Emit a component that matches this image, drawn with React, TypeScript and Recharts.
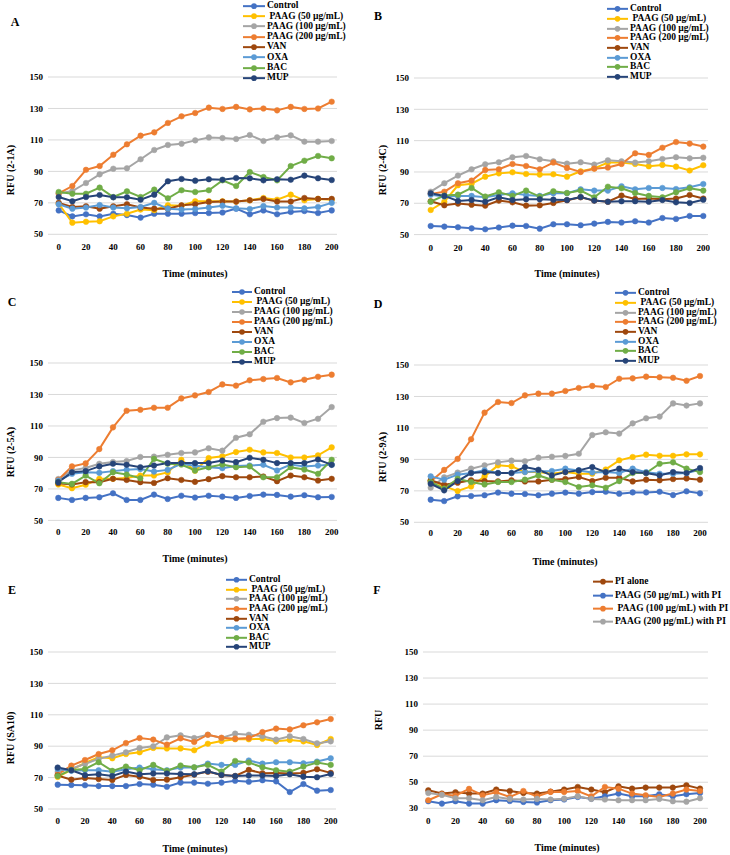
import { LineChart, Line, XAxis, YAxis, CartesianGrid } from 'recharts';

const TIME = [0, 10, 20, 30, 40, 50, 60, 70, 80, 90, 100, 110, 120, 130, 140, 150, 160, 170, 180, 190, 200];
const X_TICKS = [0, 20, 40, 60, 80, 100, 120, 140, 160, 180, 200];
const Y_TICKS = [50, 70, 90, 110, 130, 150];
const Y_TICKS_F = [30, 50, 70, 90, 110, 130, 150];

const NAMES = ['Control', ' PAAG (50 µg/mL)', 'PAAG (100 µg/mL)', 'PAAG (200 µg/mL)', 'VAN', 'OXA', 'BAC', 'MUP'];
const COLORS = ['#4472C4', '#FFC000', '#A5A5A5', '#ED7D31', '#9E480E', '#5B9BD5', '#70AD47', '#264478'];
const NAMES_F = ['PI alone', 'PAAG (50 µg/mL) with PI', ' PAAG (100 µg/mL) with PI', 'PAAG (200 µg/mL) with PI'];
const COLORS_F = ['#9E480E', '#4472C4', '#ED7D31', '#A5A5A5'];

// Panel A (2-1A)
const A_CONTROL = [65.2, 61.4, 62.7, 61.4, 63.1, 62.2, 60.6, 63.1, 63.1, 63.1, 63.5, 63.5, 63.9, 66.3, 62.7, 65.2, 62.7, 64.2, 64.8, 63.5, 65.2];
const A_PAAG50 = [69.4, 57.4, 58, 58.3, 61.4, 63.1, 65.7, 65.3, 68.4, 68.2, 71, 71, 71, 70.8, 71.6, 73.1, 72, 75.2, 71.6, 72.5, 72];
const A_PAAG100 = [76, 77.5, 82.6, 88.1, 91.7, 92, 97.7, 103.6, 106.8, 107.6, 109.7, 111.6, 111.2, 110.6, 113.1, 109.3, 111.6, 112.9, 108.9, 108.9, 109.3];
const A_PAAG200 = [76, 80.7, 91, 93.4, 100.6, 107.2, 112.7, 114.8, 120.8, 125, 127.1, 130.5, 129.7, 131, 129.4, 130, 128.8, 131, 129.7, 130, 134.3];
const A_VAN = [70, 67.4, 67.8, 66.3, 67.8, 69.1, 67, 66.3, 66.3, 68.4, 69.1, 70.6, 70.8, 70.8, 71.6, 72.5, 70.8, 70.8, 73.1, 72.5, 72.5];
const A_OXA = [69.1, 66.3, 67, 68.6, 67, 66.5, 67.4, 70, 66.3, 65.7, 66.1, 67, 68.2, 66.5, 66.1, 68, 67, 67, 66.5, 67.4, 70];
const A_BAC = [76.9, 75.8, 75.8, 79.7, 73.7, 77.3, 73.7, 78.4, 72.9, 78, 76.9, 78, 84.3, 80.7, 89.6, 86.4, 84.3, 93.4, 96.8, 99.8, 98.3];
const A_MUP = [73.7, 71, 73.7, 75, 73.5, 73.5, 72, 75.2, 83.7, 85.2, 84.1, 85, 84.7, 85.8, 85.6, 84.3, 85, 84.7, 87.3, 85.6, 84.5];

// Panel B (2-4C)
const B_CONTROL = [55.5, 55.1, 54.7, 54, 53.4, 54.5, 55.7, 55.5, 53.8, 56.6, 56.6, 56, 57, 58.1, 57.7, 58.5, 57.7, 60.6, 60, 61.9, 61.9];
const B_PAAG50 = [65.7, 71, 81.5, 82.5, 87, 89.1, 89.8, 88.7, 88.3, 88.5, 87, 90.4, 92.3, 96, 96, 95.1, 93.6, 94.5, 93.4, 90.9, 94.3];
const B_PAAG100 = [77.4, 82.8, 87.7, 91.7, 94.9, 96.2, 99.4, 100.2, 98.1, 96.8, 95.3, 96.2, 94.7, 97.4, 96.8, 96, 96.8, 98.3, 99.4, 98.7, 99.1];
const B_PAAG200 = [76, 77.4, 82.8, 84.5, 91.3, 91.7, 95.1, 93.8, 91.7, 96, 92.6, 90, 92.1, 92.8, 95.1, 101.9, 100.9, 105.5, 109.1, 108.1, 106.2];
const B_VAN = [71.3, 68.7, 69.8, 69.1, 68.5, 71.7, 70.6, 68.5, 68.7, 70.2, 71.9, 73.8, 71.7, 71, 74.9, 72.8, 73, 72.6, 73, 75.3, 73];
const B_OXA = [75.5, 74.3, 74.7, 74.7, 73.8, 75.3, 76.4, 75.3, 74.7, 76.4, 76.4, 78.9, 78.1, 78.1, 80.9, 78.9, 79.8, 79.8, 79.1, 80.2, 82.3];
const B_BAC = [71, 74.9, 75.5, 79.8, 74.3, 77, 74.7, 78.1, 74.3, 77.7, 76.6, 78.1, 73.8, 80.6, 79.6, 76.6, 74.7, 73.8, 77, 79.6, 78.1];
const B_MUP = [76.4, 74.7, 71.5, 72.1, 71, 73.8, 72.1, 72.6, 72.6, 72.3, 72.1, 74, 71.7, 71, 71.3, 71.3, 71, 72.1, 70.6, 70.2, 72.3];

// Panel C (2-5A)
const C_CONTROL = [64.3, 63, 64.3, 64.7, 67.2, 63, 63, 66.4, 63.6, 65.7, 64.5, 65.7, 65.1, 64.3, 65.5, 66.4, 66.2, 65.1, 66, 64.7, 64.9];
const C_PAAG50 = [72.8, 70.4, 72.6, 76.4, 76.4, 77, 78.5, 78.5, 80.5, 88.5, 81.6, 89.6, 90.7, 93.4, 94.9, 93.2, 92.8, 90, 90, 91.3, 96.4];
const C_PAAG100 = [76.3, 81.8, 83.3, 86, 87.1, 87.7, 90.3, 90.5, 91.7, 92.8, 93.2, 95.8, 94.3, 102.5, 104.7, 112.7, 115, 115.3, 111.9, 114.6, 122];
const C_PAAG200 = [75.8, 84.3, 86.2, 95.3, 109.1, 119.7, 120.3, 121.6, 121.6, 127.5, 129.4, 131.6, 136.4, 135.6, 139, 139.8, 140.5, 137.7, 139.4, 141.3, 142.6];
const C_VAN = [73.6, 72.8, 74.3, 74.3, 76.4, 75.7, 74.3, 73.8, 76.8, 75.7, 74.5, 76.2, 78.1, 77.4, 77.4, 77.9, 74.9, 78.5, 77.4, 75.3, 76.4];
const C_OXA = [75.3, 79.6, 80.6, 80.2, 81.3, 82.1, 82.6, 81, 82.1, 86, 84.7, 83.8, 83.2, 84.5, 84.9, 85.3, 81.7, 85.5, 84.3, 84.9, 85.3];
const C_BAC = [74.3, 73.2, 78.5, 73.6, 80.6, 79.1, 76.8, 89.1, 86, 85.5, 81.7, 83.8, 85.5, 83.8, 84.3, 77.4, 77.4, 83.8, 82.3, 79.6, 88.5];
const C_MUP = [74.3, 80.6, 81.3, 84.3, 86, 85.3, 83.8, 84.9, 86.4, 86.4, 86.4, 86.4, 88.1, 87, 89.8, 88.5, 86.4, 86.4, 86.4, 88.7, 85.3];

// Panel D (2-9A)
const D_CONTROL = [64.4, 63.5, 66.5, 66.7, 67.2, 68.9, 68.2, 68, 67.2, 68.2, 68.9, 68.2, 69.2, 69.4, 68.2, 69, 69, 69.4, 67.3, 69.7, 68.4];
const D_PAAG50 = [76.7, 72.8, 69.9, 72.8, 79.2, 86.2, 85.6, 81.9, 81.9, 80.9, 81.9, 80.9, 80.9, 83.6, 89.4, 91.5, 93, 92.3, 92.3, 93.2, 93.2];
const D_PAAG100 = [72, 78.6, 81.6, 84.1, 86.2, 88.1, 89.2, 88.8, 91.1, 91.7, 92.2, 93.6, 105.5, 107.2, 106.4, 112.9, 116.1, 117.2, 125.6, 124.2, 125.6];
const D_PAAG200 = [76, 83.3, 90.3, 102.8, 119.7, 126.5, 125.8, 130.7, 131.8, 131.8, 133.5, 135.4, 136.7, 136, 141.3, 141.5, 142.6, 142.2, 141.9, 140, 143];
const D_VAN = [76.7, 73.9, 75.2, 76.7, 76.2, 76, 76.7, 76, 76, 77.1, 77.5, 78.8, 76.2, 78.3, 78.3, 76, 77.1, 76.7, 77.5, 77.9, 77.1];
const D_OXA = [79.2, 77.1, 80.3, 81.3, 83, 81.3, 81.3, 81.9, 82.4, 82.6, 84.1, 83, 81.7, 81.9, 81.3, 84.1, 81.9, 80.9, 80.9, 81.3, 83.4];
const D_BAC = [75.6, 71.4, 77.7, 75.6, 74.1, 75.6, 75.6, 77.1, 79.8, 77.1, 75.6, 72.4, 73.5, 72, 76.2, 81.3, 81.3, 87.2, 88.1, 84.1, 81.9];
const D_MUP = [74.5, 70.3, 76.2, 81.3, 81.9, 81.3, 81.3, 85.1, 83.4, 79.8, 81.9, 83, 85.1, 81.9, 84.1, 81.9, 81.3, 79.8, 81.9, 81.3, 84.5];

// Panel E (SA10) - the antibiotic series read the same as panel B
const E_CONTROL = [65.5, 65.3, 65.1, 64.6, 64.6, 64.6, 65.9, 65.5, 64.2, 66.8, 66.8, 66.1, 66.8, 68, 67.4, 68.3, 67.6, 60.8, 65.9, 61.7, 62.1];
const E_PAAG50 = [70.4, 75, 79.3, 82.9, 82.3, 85, 86.1, 88.9, 88.6, 88.6, 87.4, 91.6, 93.3, 94.4, 94.4, 94.8, 93.1, 94, 93.1, 90.8, 94.6];
const E_PAAG100 = [73.6, 75.7, 78.7, 82, 84, 86.1, 88.9, 89.9, 95.6, 96.9, 95.2, 97.3, 95.2, 98, 97.3, 96.3, 94.2, 96.3, 94.6, 91.8, 93.1];
const E_PAAG200 = [72, 77.6, 81.2, 85, 87.4, 92, 95.2, 94.2, 91, 95, 92.7, 97.3, 95.4, 94.8, 95.2, 99, 101.2, 100.7, 103.3, 105.2, 107.3];
const E_VAN = [71.3, 68.7, 69.8, 69.1, 68.5, 71.7, 70.6, 68.5, 68.7, 70.2, 71.9, 73.8, 71.7, 71, 74.9, 72.8, 73, 72.6, 73, 75.3, 73];
const E_OXA = [75.5, 74.3, 74.7, 74.7, 73.8, 75.3, 76.4, 75.3, 74.7, 76.4, 76.4, 78.9, 78.1, 78.1, 80.9, 78.9, 79.8, 79.8, 79.1, 80.2, 82.3];
const E_BAC = [71, 74.9, 75.5, 79.8, 74.3, 77, 74.7, 78.1, 74.3, 77.7, 76.6, 78.1, 73.8, 80.6, 79.6, 76.6, 74.7, 73.8, 77, 79.6, 78.1];
const E_MUP = [76.4, 74.7, 71.5, 72.1, 71, 73.8, 72.1, 72.6, 72.6, 72.3, 72.1, 74, 71.7, 71, 71.3, 71.3, 71, 72.1, 70.6, 70.2, 72.3];

// Panel F (PI uptake)
const F_PI = [43.8, 41.3, 42.3, 41.3, 41.3, 44.4, 43.3, 41.8, 41.3, 42.8, 44.4, 46.4, 44.4, 42.3, 46.9, 45.1, 45.9, 45.9, 45.9, 47.7, 45.1];
const F_PAAG50 = [35.4, 33.6, 35.4, 33.6, 33.6, 36.2, 35.6, 34.9, 34.4, 36.2, 36.7, 38.7, 37.4, 39.2, 41.3, 39.2, 39.2, 40.8, 39.2, 40.8, 41.8];
const F_PAAG100 = [36.2, 40.8, 39.7, 44.9, 40, 42.3, 38.7, 43.3, 39.2, 42.6, 42.6, 43.3, 39.2, 46.4, 45.1, 41.3, 40, 38.7, 41.3, 44.4, 43.3];
const F_PAAG200 = [41.8, 40.3, 37.7, 37.7, 36.2, 38.7, 37.2, 36.7, 37.2, 36.7, 37.4, 39.2, 37.2, 36.7, 36.2, 36.2, 36.2, 37.2, 35.4, 35.1, 37.7];

const FONT = '"Liberation Serif", "Times New Roman", serif';

type Geom = {
  gridLeft: number; gridRight: number; x0: number; x200: number;
  yTop: number; yBot: number; tickY: number;
  titleX: number; titleY: number; yLabelX: number; yLabelY: number;
  letterX: number; letterY: number;
  legX: number; legLineW: number; legY0: number; legStep: number;
};

type PanelProps = {
  letter: string;
  yLabel: string;
  names: string[];
  colors: string[];
  values: number[][];
  yTicks: number[];
  g: Geom;
};

function Panel({ letter, yLabel, names, colors, values, yTicks, g }: PanelProps) {
  const rows = TIME.map((t, i) => {
    const r: Record<string, number> = { t };
    values.forEach((v, k) => (r['s' + k] = v[i]));
    return r;
  });
  const YW = 34;
  const XH = 22;
  const MT = 6;
  const left = g.gridLeft - YW;
  const width = g.gridRight - left + 2;
  const height = MT + (g.yBot - g.yTop) + XH;
  const tickStyle = { fontSize: 9, fontWeight: 'bold' as const, fill: '#000', fontFamily: FONT };

  return (
    <>
      <div style={{ position: 'absolute', left, top: g.yTop - MT }}>
        <LineChart width={width} height={height} data={rows} margin={{ top: MT, right: 2, bottom: 0, left: 0 }}>
          <CartesianGrid vertical={false} stroke="#d9d9d9" />
          <XAxis
            dataKey="t"
            type="number"
            domain={[0, 200]}
            ticks={X_TICKS}
            interval={0}
            padding={{ left: g.x0 - g.gridLeft, right: g.gridRight - g.x200 }}
            axisLine={false}
            tickLine={false}
            tickSize={0}
            tickMargin={g.tickY - g.yBot - 3}
            height={XH}
            tick={tickStyle}
          />
          <YAxis
            domain={[yTicks[0], yTicks[yTicks.length - 1]]}
            ticks={yTicks}
            interval={0}
            width={YW}
            axisLine={false}
            tickLine={false}
            tickSize={0}
            tickMargin={5}
            tick={tickStyle}
          />
          {names.map((n, k) => (
            <Line
              key={n}
              dataKey={'s' + k}
              stroke={colors[k]}
              strokeWidth={2}
              dot={{ r: 2.8, fill: colors[k], stroke: colors[k], strokeWidth: 0.5 }}
              isAnimationActive={false}
            />
          ))}
        </LineChart>
      </div>

      {/* legend */}
      <div style={{ position: 'absolute', left: g.legX, top: g.legY0 - g.legStep / 2 }}>
        {names.map((n, k) => (
          <div key={n} style={{ display: 'flex', alignItems: 'center', height: g.legStep }}>
            <svg width={g.legLineW} height={g.legStep} style={{ display: 'block' }}>
              <line x1={0} x2={g.legLineW} y1={g.legStep / 2} y2={g.legStep / 2} stroke={colors[k]} strokeWidth={2} />
              <circle cx={g.legLineW / 2} cy={g.legStep / 2} r={2.8} fill={colors[k]} />
            </svg>
            <span style={{ marginLeft: 2, fontFamily: FONT, fontWeight: 'bold', fontSize: 9.5, whiteSpace: 'pre', color: '#000', lineHeight: 1 }}>
              {n}
            </span>
          </div>
        ))}
      </div>

      <div style={{ position: 'absolute', left: g.letterX, top: g.letterY, transform: 'translate(-50%,-50%)', fontFamily: FONT, fontWeight: 'bold', fontSize: 12 }}>
        {letter}
      </div>
      <div style={{ position: 'absolute', left: g.titleX, top: g.titleY, transform: 'translate(-50%,-50%)', fontFamily: FONT, fontWeight: 'bold', fontSize: 10, whiteSpace: 'nowrap' }}>
        Time (minutes)
      </div>
      <div style={{ position: 'absolute', left: g.yLabelX, top: g.yLabelY, transform: 'translate(-50%,-50%) rotate(-90deg)', fontFamily: FONT, fontWeight: 'bold', fontSize: 10, whiteSpace: 'nowrap' }}>
        {yLabel}
      </div>
    </>
  );
}

const GA: Geom = { gridLeft: 48, gridRight: 337, x0: 58.7, x200: 331.7, yTop: 76.7, yBot: 234, tickY: 246, titleX: 195, titleY: 273, yLabelX: 10, yLabelY: 170, letterX: 15, letterY: 22, legX: 243, legLineW: 22, legY0: 6, legStep: 10.3 };
const GB: Geom = { gridLeft: 414, gridRight: 708, x0: 430.7, x200: 703.3, yTop: 77.7, yBot: 234.3, tickY: 247, titleX: 567, titleY: 273, yLabelX: 382, yLabelY: 170, letterX: 378, letterY: 16, legX: 607, legLineW: 21, legY0: 9, legStep: 9.7 };
const GC: Geom = { gridLeft: 48, gridRight: 337, x0: 58.3, x200: 331.7, yTop: 363.3, yBot: 520.7, tickY: 532, titleX: 195, titleY: 558, yLabelX: 10, yLabelY: 452, letterX: 12, letterY: 302, legX: 232, legLineW: 20, legY0: 292, legStep: 10 };
const GD: Geom = { gridLeft: 414, gridRight: 708, x0: 430.7, x200: 700, yTop: 365, yBot: 522.3, tickY: 533, titleX: 565, titleY: 561, yLabelX: 382, yLabelY: 457, letterX: 378, letterY: 304, legX: 615, legLineW: 21, legY0: 293, legStep: 9.7 };
const GE: Geom = { gridLeft: 48, gridRight: 336, x0: 57.7, x200: 330.7, yTop: 652.3, yBot: 809.3, tickY: 821, titleX: 195, titleY: 848, yLabelX: 10, yLabelY: 738, letterX: 12, letterY: 590, legX: 226, legLineW: 21, legY0: 580, legStep: 9.6 };
const GF: Geom = { gridLeft: 423, gridRight: 708, x0: 428.3, x200: 700, yTop: 651.7, yBot: 808, tickY: 820, titleX: 567, titleY: 847, yLabelX: 378, yLabelY: 720, letterX: 377, letterY: 590, legX: 593, legLineW: 20, legY0: 582, legStep: 13.3 };

export default function App() {
  return (
    <div style={{ position: 'absolute', left: 0, top: 0, width: 730, height: 855, background: '#fff', overflow: 'hidden', color: '#000' }}>
      <Panel letter="A" yLabel="RFU (2-1A)" names={NAMES} colors={COLORS} yTicks={Y_TICKS} g={GA}
        values={[A_CONTROL, A_PAAG50, A_PAAG100, A_PAAG200, A_VAN, A_OXA, A_BAC, A_MUP]} />
      <Panel letter="B" yLabel="RFU (2-4C)" names={NAMES} colors={COLORS} yTicks={Y_TICKS} g={GB}
        values={[B_CONTROL, B_PAAG50, B_PAAG100, B_PAAG200, B_VAN, B_OXA, B_BAC, B_MUP]} />
      <Panel letter="C" yLabel="RFU (2-5A)" names={NAMES} colors={COLORS} yTicks={Y_TICKS} g={GC}
        values={[C_CONTROL, C_PAAG50, C_PAAG100, C_PAAG200, C_VAN, C_OXA, C_BAC, C_MUP]} />
      <Panel letter="D" yLabel="RFU (2-9A)" names={NAMES} colors={COLORS} yTicks={Y_TICKS} g={GD}
        values={[D_CONTROL, D_PAAG50, D_PAAG100, D_PAAG200, D_VAN, D_OXA, D_BAC, D_MUP]} />
      <Panel letter="E" yLabel="RFU (SA10)" names={NAMES} colors={COLORS} yTicks={Y_TICKS} g={GE}
        values={[E_CONTROL, E_PAAG50, E_PAAG100, E_PAAG200, E_VAN, E_OXA, E_BAC, E_MUP]} />
      <Panel letter="F" yLabel="RFU" names={NAMES_F} colors={COLORS_F} yTicks={Y_TICKS_F} g={GF}
        values={[F_PI, F_PAAG50, F_PAAG100, F_PAAG200]} />
    </div>
  );
}
